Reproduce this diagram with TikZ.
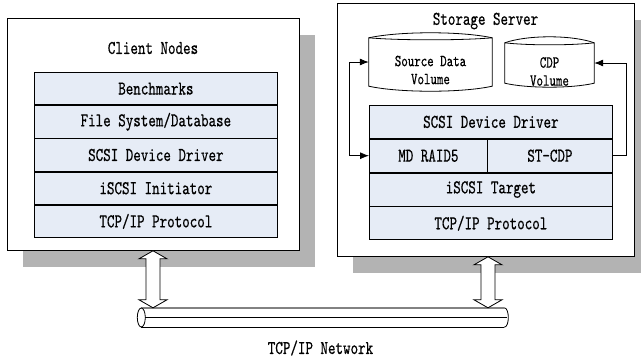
\documentclass[tikz,border=0pt]{standalone}
\usepackage{fontspec}
\setmainfont[FakeStretch=0.735, FakeBold=0.5]{lmmono10-regular.otf}
\usetikzlibrary{arrows.meta,calc,shadows}
\definecolor{layerfill}{RGB}{230,236,246}
\definecolor{shadowgray}{RGB}{179,179,179}
\definecolor{pipegray}{RGB}{130,130,130}

% hollow double-headed arrow between two tip points (vertical)
\newcommand\hollowarrow[2]{%
  \draw[hollow] (#1) -- ++(14,8) -- ++(-7,0) -- ($(#2)+(7,-8)$) -- ++(7,0)
    -- (#2) -- ++(-14,-8) -- ++(7,0) -- ($(#1)+(-7,8)$) -- ++(-7,0) -- cycle;}

% volume outline drawn around an empty node: top lens, straight sides, curved bottom
\newcommand\volumeshape[4]{%
  \draw[edge, fill=white] (#1.north west)
    .. controls ($(#1.north west)!0.25!(#1.north east)+(0,-#2)$)
            and ($(#1.north west)!0.75!(#1.north east)+(0,-#2)$) .. (#1.north east)
    -- (#1.south east)
    .. controls ($(#1.south west)!0.75!(#1.south east)+(0,#3)$)
            and ($(#1.south west)!0.25!(#1.south east)+(0,#3)$) .. (#1.south west)
    -- cycle;
  \draw[edge] (#1.north west)
    .. controls ($(#1.north west)!0.25!(#1.north east)+(0,#4)$)
            and ($(#1.north west)!0.75!(#1.north east)+(0,#4)$) .. (#1.north east);}

\begin{document}
\begin{tikzpicture}[x=1pt,y=-1pt,
  edge/.style={draw=black, line width=0.8pt},
  mainfont/.style={font=\fontsize{19.5}{21}\selectfont},
  volfont/.style={font=\fontsize{16.8}{18}\selectfont},
  hostbox/.style={edge, fill=white, anchor=north west, inner sep=0pt,
    drop shadow={shadow xshift=16pt, shadow yshift=-17pt, fill=shadowgray, opacity=1}},
  layer/.style={edge, fill=layerfill, inner sep=0pt, mainfont,
    minimum width=243pt, minimum height=32.4pt},
  srvlayer/.style={layer, minimum height=33pt},
  volnode/.style={inner sep=0pt},
  voltext/.style={volfont, align=center, inner sep=0pt},
  hollow/.style={edge, fill=white, line join=miter},
  link/.style={draw=black, line width=0.8pt},
  tip/.style={-{Latex[length=9pt,width=7pt]}},
  bitip/.style={{Latex[length=9pt,width=7pt]}-{Latex[length=9pt,width=7pt]}}
]
\useasboundingbox (0,0) rectangle (641,360);

% hosts
\node[hostbox, minimum width=292pt, minimum height=232pt] (client) at (7,18) {};
\node[hostbox, minimum width=297pt, minimum height=253pt] (server) at (337,3) {};
\node[mainfont] (clientlabel) at (153,48) {Client Nodes};
\node[mainfont] (serverlabel) at (485.5,21) {Storage Server};

% client protocol stack
\node[layer, anchor=north west] (c1) at (34,72) {Benchmarks};
\node[layer, anchor=north] (c2) at (c1.south) {File System/Database};
\node[layer, anchor=north] (c3) at (c2.south) {SCSI Device Driver};
\node[layer, anchor=north] (c4) at (c3.south) {iSCSI Initiator};
\node[layer, anchor=north] (c5) at (c4.south) {TCP/IP Protocol};

% server protocol stack
\node[srvlayer, anchor=north west] (s1) at (369,105) {SCSI Device Driver};
\node[srvlayer, minimum width=118pt, anchor=north west] (md) at (s1.south west) {MD RAID5};
\node[srvlayer, minimum width=125pt, anchor=north east] (st) at (s1.south east) {ST-CDP};
\node[srvlayer, anchor=north west] (s3) at (md.south west) {iSCSI Target};
\node[srvlayer, anchor=north] (s4) at (s3.south) {TCP/IP Protocol};

% volumes
\node[volnode, minimum width=123pt, minimum height=48pt] (src) at (430.5,62) {};
\node[volnode, minimum width=89pt, minimum height=40pt] (cdp) at (549.5,63) {};
\volumeshape{src}{6.7}{6.7}{2.7}
\volumeshape{cdp}{8}{5.3}{2.7}
\node[voltext] (srctext) at (430.5,70) {Source Data\\Volume};
\node[voltext] (cdptext) at (549.5,71.5) {CDP\\Volume};

% volume links
\coordinate (lx) at (349,100);
\coordinate (rx) at (626,100);
\draw[link, bitip] (src.west) -- (src.west -| lx) -- (md.west -| lx) -- (md.west);
\draw[link, tip] (st.east) -- (st.east -| rx) -- (cdp.east -| rx) -- (cdp.east);

% network pipe
\node[inner sep=0pt, minimum width=362.5pt, minimum height=19pt] (net) at (322.75,317.5) {};
\draw[draw=pipegray, line width=1.4pt] (net.north west) -- (net.north east);
\draw[edge] (net.south west) -- (net.south east);
\draw[edge] (net.north east) .. controls ($(net.north east)+(5.5,0)$)
  and ($(net.south east)+(5.5,0)$) .. (net.south east);
\draw[edge, fill=white] (net.west) ellipse [x radius=4, y radius=9.5];
\draw[draw=black, line width=0.6pt] ($(net.west)+(4,0)$) -- ($(net.east)+(3,0)$);
\draw[draw=black, line width=1pt] ($(net.west)+(50.5,-0.5)$) -- ($(net.west)+(232.5,-0.5)$);
\node[mainfont] (netlabel) at (320.5,348) {TCP/IP Network};

% host-to-network links
\path (client.south west) ++(146,0) coordinate (la1);
\coordinate (la2) at (la1 |- net.north);
\path (server.south west) ++(151,0) coordinate (ra1);
\coordinate (ra2) at (ra1 |- net.north);
\hollowarrow{la1}{la2}
\hollowarrow{ra1}{ra2}
\end{tikzpicture}
\end{document}
